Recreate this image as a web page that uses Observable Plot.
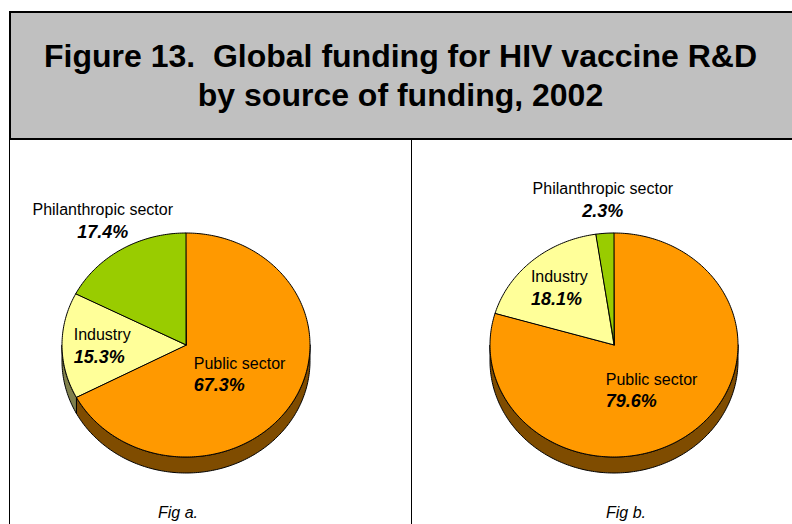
<!DOCTYPE html>
<html><head><meta charset="utf-8">
<script src="https://cdn.jsdelivr.net/npm/d3@7"></script>
<script src="https://cdn.jsdelivr.net/npm/@observablehq/plot@0.6"></script>
<style>
html,body{margin:0;padding:0;background:#fff;}
body{width:792px;height:524px;position:relative;overflow:hidden;font-family:"Liberation Sans",Arial,sans-serif;color:#000;}
#titlebox{position:absolute;left:9px;top:11px;width:790px;height:129px;box-sizing:border-box;background:#C0C0C0;border-top:2px solid #000;border-left:2px solid #000;border-bottom:2px solid #000;}
#title{position:absolute;left:9px;width:783px;top:37px;text-align:center;font-weight:bold;font-size:32px;line-height:39px;white-space:pre;}
.vline{position:absolute;background:#000;width:1px;top:140px;height:384px;}
.pie{position:absolute;top:140px;}
.cap{position:absolute;font-style:italic;font-size:16px;line-height:18px;transform:translateX(-50%);top:504px;white-space:nowrap;}
</style></head><body>
<div id="titlebox"></div>
<div id="title">Figure 13.  Global funding for HIV vaccine R&amp;D
by source of funding, 2002</div>
<div class="vline" style="left:9px"></div>
<div class="vline" style="left:411px"></div>
<div id="pieA" class="pie" style="left:10px"></div>
<div id="pieB" class="pie" style="left:412px"></div>
<div id="capA" class="cap" style="left:178px"></div>
<div id="capB" class="cap" style="left:626px"></div>
<script>
// ---- data ----
const categories = ["Public sector", "Industry", "Philanthropic sector"];
const figAValues = [67.3, 15.3, 17.4];
const figBValues = [79.6, 18.1, 2.3];
const figLabels = ["Fig a.", "Fig b."];

// ---- styles / layout ----
const topColors = ["#FF9900", "#FFFF99", "#99CC00"];
const sideColors = ["#7F4C00", "#80804C", "#4C6600"];
const labelRadius = [0.5, 0.68, 1.3];
const RX = 124, RY = 112, DEPTH = 16;
const FONT = "'Liberation Sans', Arial, sans-serif";

const ctx = document.createElement("canvas").getContext("2d");
function textWidth(t, font) { ctx.font = font; return ctx.measureText(t).width; }

function pie(values, {width, height, cx, cy}) {
  const total = d3.sum(values);
  let acc = 0;
  const slices = values.map((v, i) => {
    const a0 = acc / total * 2 * Math.PI; acc += v;
    const a1 = acc / total * 2 * Math.PI;
    return {i, name: categories[i], value: v, a0, a1};
  });
  const arc = (a0, a1) => {
    const n = Math.max(2, Math.ceil((a1 - a0) / (Math.PI / 180)));
    return d3.range(n + 1).map(k => { const a = a0 + (a1 - a0) * k / n; return {x: Math.sin(a), y: Math.cos(a)}; });
  };
  const d = DEPTH / RY;
  const marks = [];
  for (const s of slices) {
    const lo = Math.max(s.a0, Math.PI / 2), hi = Math.min(s.a1, 3 * Math.PI / 2);
    if (hi > lo) marks.push(Plot.area(arc(lo, hi), {
      x1: "x", y1: "y", x2: "x", y2: p => p.y - d,
      fill: sideColors[s.i], stroke: "#000", strokeWidth: 1, strokeLinejoin: "round"
    }));
  }
  for (const s of slices) {
    marks.push(Plot.area(arc(s.a0, s.a1), {
      x1: "x", y1: "y", x2: () => 0, y2: () => 0,
      fill: topColors[s.i], stroke: "#000", strokeWidth: 1, strokeLinejoin: "round"
    }));
  }
  for (const s of slices) {
    const m = (s.a0 + s.a1) / 2, k = labelRadius[s.i];
    const lab = [{x: k * Math.sin(m), y: k * Math.cos(m), name: s.name, pct: s.value.toFixed(1) + "%"}];
    const inside = k < 1;
    const wName = textWidth(s.name, `16px ${FONT}`);
    const wPct = textWidth(lab[0].pct, `italic bold 18px ${FONT}`);
    const w = Math.max(wName, wPct);
    const anchor = inside ? "start" : "middle";
    const dx = inside ? -w / 2 : 0;
    marks.push(Plot.text(lab, {x: "x", y: "y", text: "name", textAnchor: anchor, dx, dy: -11,
      fontSize: 16, fontFamily: FONT, fill: "#000"}));
    marks.push(Plot.text(lab, {x: "x", y: "y", text: "pct", textAnchor: anchor, dx, dy: 11,
      fontSize: 18, fontFamily: FONT, fontWeight: "bold", fontStyle: "italic", fill: "#000"}));
  }
  return Plot.plot({
    width, height, margin: 0,
    x: {domain: [-1, 1], range: [cx - RX, cx + RX], axis: null},
    y: {domain: [-1, 1], range: [cy + RY, cy - RY], axis: null},
    style: {background: "transparent", overflow: "visible", fontFamily: FONT},
    marks
  });
}

document.getElementById("pieA").append(pie(figAValues, {width: 400, height: 384, cx: 176, cy: 205}));
document.getElementById("pieB").append(pie(figBValues, {width: 380, height: 384, cx: 202, cy: 205}));
document.getElementById("capA").textContent = figLabels[0];
document.getElementById("capB").textContent = figLabels[1];
</script>
</body></html>
